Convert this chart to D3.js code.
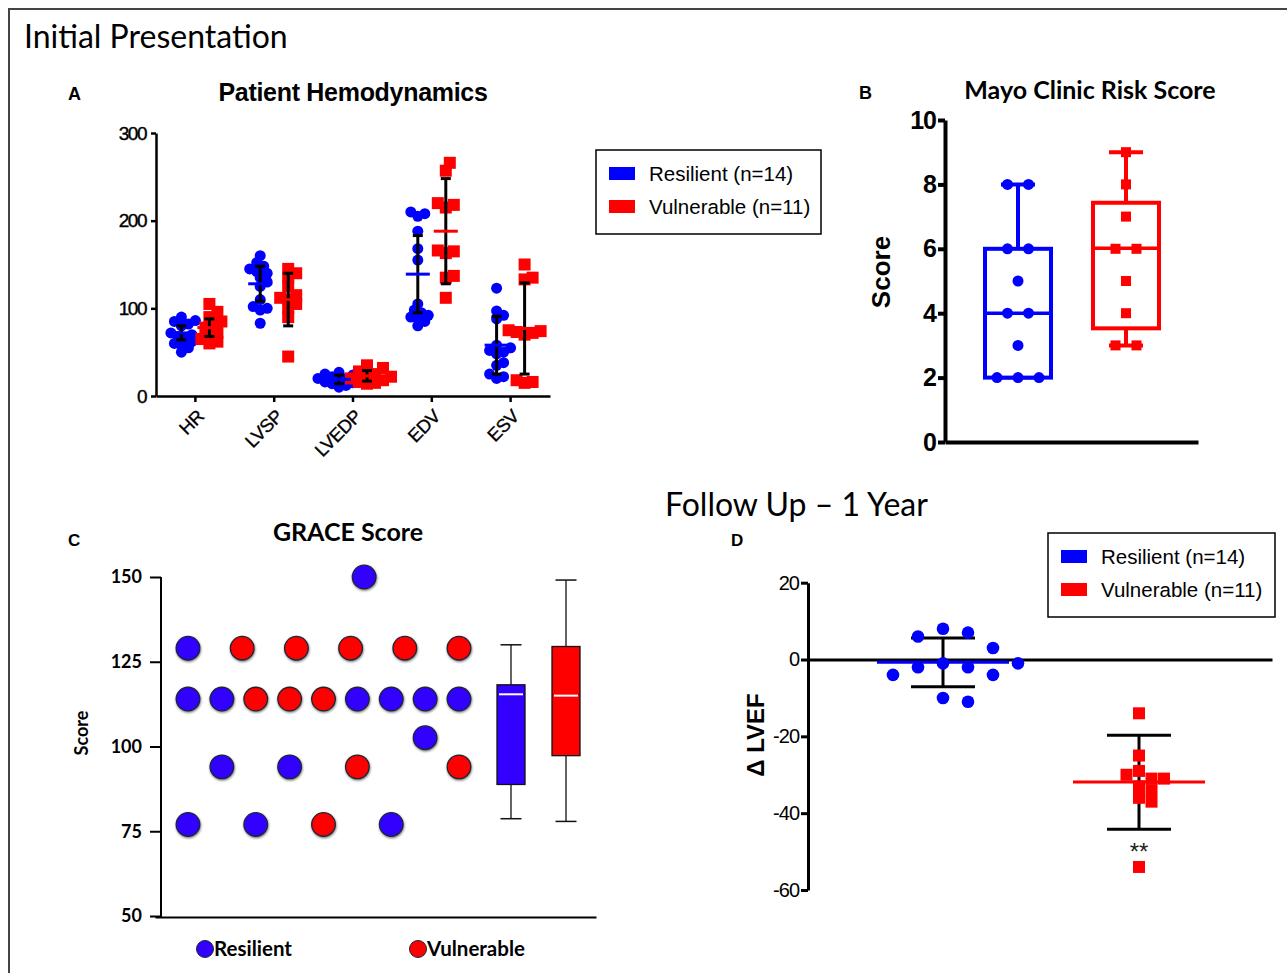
<!DOCTYPE html>
<html>
<head>
<meta charset="utf-8">
<script src="https://cdn.jsdelivr.net/npm/d3@7"></script>
<style>
  body { margin: 0; background: #fff; }
  .arial { font-family: "Liberation Sans", Arial, sans-serif; }
  .cal { font-family: Lato, "Open Sans", sans-serif; }
</style>
</head>
<body>
<script>
// ---------- data ----------
const blue = "#0000ff", red = "#ff0000";
const graceBlue = "#3300ff";

// A: patient hemodynamics
const hemoCats = ["HR", "LVSP", "LVEDP", "EDV", "ESV"];
const hrRes = [50, 55, 58, 60, 62, 65, 68, 70, 72, 80, 82, 85, 86, 90];
const hrVul = [60, 62, 65, 70, 72, 78, 82, 85, 90, 96, 105];
const lvspRes = [83, 98, 100, 102, 110, 125, 130, 135, 140, 142, 145, 148, 152, 160];
const lvspVul = [45, 90, 100, 105, 110, 112, 115, 125, 135, 140, 145];
const lvedpRes = [10, 12, 14, 15, 16, 18, 18, 20, 20, 22, 22, 24, 25, 27];
const lvedpVul = [14, 15, 16, 18, 20, 22, 24, 25, 28, 32, 35];
const edvRes = [80, 85, 88, 90, 92, 95, 98, 105, 155, 168, 188, 205, 208, 210];
const edvVul = [112, 135, 137, 163, 165, 166, 215, 218, 220, 257, 266];
const esvRes = [20, 22, 25, 35, 38, 48, 50, 52, 55, 58, 88, 92, 97, 123];
const esvVul = [15, 16, 18, 70, 72, 73, 74, 75, 133, 135, 150];
const hemoMeanRes = [72, 128, 19, 139, 58];
const hemoSdRes = [8, 20, 5, 44, 33];
const hemoMeanVul = [78, 110, 23, 188, 77];
const hemoSdVul = [10, 30, 6, 60, 52];
const hemoTicks = [0, 100, 200, 300];

// B: Mayo clinic risk score
const mayoRes = [2, 2, 2, 3, 4, 4, 5, 6, 6, 8, 8];
const mayoVul = [3, 3, 4, 5, 6, 6, 7, 8, 9];
const mayoBoxRes = [2, 2, 4, 6, 8];          // min, q1, median, q3, max
const mayoBoxVul = [3, 3.53, 6.02, 7.43, 9];
const mayoTicks = [0, 2, 4, 6, 8, 10];

// C: GRACE score (value, column slot)
const graceResScore = [129, 114, 114, 114, 114, 114, 114, 94, 94, 102.6, 150, 77, 77, 77];
const graceResSlot  = [0, 0, 1, 5, 6, 7, 8, 1, 3, 7, 5.2, 0, 2, 6];
const graceVulScore = [129, 129, 129, 129, 129, 114, 114, 114, 94, 94, 77];
const graceVulSlot  = [1.6, 3.2, 4.8, 6.4, 8, 2, 3, 4, 5, 8, 4];
const graceBoxRes = [78.7, 88.8, 115.4, 118.2, 130];
const graceBoxVul = [77.9, 97.3, 115, 129.5, 149.1];
const graceTicks = [50, 75, 100, 125, 150];

// D: change in LVEF at 1 year
const lvefRes = [8, 7, 6, 3, -1, -2, -2, -4, -4, -10, -11, -1];
const lvefVul = [-14, -25, -29, -31, -30, -33, -34, -36, -37, -54, -31];
const lvefMean = [-0.7, -31.9];
const lvefLo = [-7.1, -44.2];
const lvefHi = [5.6, -19.7];
const lvefTicks = [-60, -40, -20, 0, 20];
const groups = ["Resilient", "Vulnerable"];

// ---------- helpers ----------
function swarm(values, y, minDist, step) {
  const placed = [];
  return values.map(v => {
    const py = y(v);
    for (let k = 0; k < 60; k++) {
      const off = k === 0 ? 0 : (k % 2 ? 1 : -1) * Math.ceil(k / 2) * step;
      if (placed.every(p => (p.x - off) ** 2 + (p.y - py) ** 2 >= minDist * minDist)) {
        placed.push({ x: off, y: py });
        return { v, off };
      }
    }
    return { v, off: 0 };
  });
}
function sameValueSpread(values, spacing) {
  const counts = d3.rollup(values, g => g.length, d => d);
  const seen = new Map();
  return values.map(v => {
    const i = seen.get(v) || 0; seen.set(v, i + 1);
    return { v, off: (i - (counts.get(v) - 1) / 2) * spacing };
  });
}
function styleAxis(g, width, size, family, weight, spacing) {
  g.attr("font-size", size).attr("font-family", family).attr("font-weight", weight);
  g.selectAll("path, line").attr("stroke", "#000").attr("stroke-width", width);
  g.selectAll("text").attr("fill", "#000").style("letter-spacing", spacing || "0px");
}
const plain = d => String(d); // keep hyphen-minus like the original

const svg = d3.select("body").append("svg").attr("width", 1287).attr("height", 973);

// outer frame
svg.append("rect").attr("x", 9).attr("y", 9).attr("width", 1320).attr("height", 1000)
  .attr("fill", "none").attr("stroke", "#444").attr("stroke-width", 2);
svg.append("text").attr("class", "cal").attr("x", 24).attr("y", 48)
  .attr("font-size", 32).text("Initial Presentation");
svg.append("text").attr("class", "cal").attr("x", 665).attr("y", 516)
  .attr("font-size", 32).text("Follow Up \u2013 1 Year");

// ================= A =================
const xA = d3.scaleBand().domain(hemoCats).range([156, 550]);
const yA = d3.scaleLinear().domain([0, 300]).range([396, 133]);
const cx = c => xA(c) + xA.bandwidth() / 2;

svg.append("text").attr("class", "arial").attr("x", 68).attr("y", 100)
  .attr("font-size", 18).attr("font-weight", "bold").text("A");
svg.append("text").attr("class", "arial").attr("x", 353).attr("y", 101)
  .attr("text-anchor", "middle").attr("font-size", 25).attr("font-weight", "bold")
  .style("letter-spacing", "-0.3px").text("Patient Hemodynamics");

const gyA = svg.append("g").attr("transform", "translate(156,0)")
  .call(d3.axisLeft(yA).tickValues(hemoTicks).tickFormat(plain).tickSize(5).tickSizeOuter(0).tickPadding(5));
styleAxis(gyA, 2.5, 19, "Liberation Sans, Arial", "normal", "-1.5px");
gyA.selectAll("text").attr("stroke", "#000").attr("stroke-width", 0.4);

const gxA = svg.append("g").attr("transform", "translate(0,396)")
  .call(d3.axisBottom(xA).tickSize(6).tickSizeOuter(0));
styleAxis(gxA, 2.5, 18.5, "Liberation Sans, Arial", "normal", "-0.5px");
gxA.selectAll("text").attr("x", 0).attr("y", 0).attr("dy", "0.35em")
  .attr("text-anchor", "end").attr("transform", "translate(5,17) rotate(-45)")
  .attr("stroke", "#000").attr("stroke-width", 0.3);

const resSets = [hrRes, lvspRes, lvedpRes, edvRes, esvRes];
const vulSets = [hrVul, lvspVul, lvedpVul, edvVul, esvVul];
const gA = svg.append("g");
hemoCats.forEach((c, i) => {
  const xr = cx(c) - 14, xv = cx(c) + 14;
  swarm(resSets[i], yA, 7, 3.5).forEach(p => {
    gA.append("circle").attr("cx", xr + p.off).attr("cy", yA(p.v)).attr("r", 5.5).attr("fill", blue);
  });
  swarm(vulSets[i], yA, 8, 4).forEach(p => {
    gA.append("rect").attr("x", xv + p.off - 6).attr("y", yA(p.v) - 6)
      .attr("width", 12).attr("height", 12).attr("fill", red);
  });
  [[xr, hemoMeanRes[i], hemoSdRes[i], blue], [xv, hemoMeanVul[i], hemoSdVul[i], red]].forEach(([x, m, s, col]) => {
    gA.append("line").attr("x1", x).attr("x2", x).attr("y1", yA(m - s)).attr("y2", yA(m + s))
      .attr("stroke", "#000").attr("stroke-width", 3);
    [m - s, m + s].forEach(v => gA.append("line").attr("x1", x - 5).attr("x2", x + 5)
      .attr("y1", yA(v)).attr("y2", yA(v)).attr("stroke", "#000").attr("stroke-width", 3));
    gA.append("line").attr("x1", x - 12).attr("x2", x + 12).attr("y1", yA(m)).attr("y2", yA(m))
      .attr("stroke", col).attr("stroke-width", 3);
  });
});

// legend A
function legendBox(x, y, w, h, fs) {
  const g = svg.append("g").attr("transform", `translate(${x},${y})`);
  g.append("rect").attr("width", w).attr("height", h).attr("fill", "#fff")
    .attr("stroke", "#000").attr("stroke-width", 1.5);
  [["Resilient (n=14)", blue], ["Vulnerable (n=11)", red]].forEach(([t, col], i) => {
    g.append("rect").attr("x", 13).attr("y", 17 + i * 33).attr("width", 26).attr("height", 13).attr("fill", col);
    g.append("text").attr("class", "arial").attr("x", 53).attr("y", 31 + i * 33)
      .attr("font-size", fs).text(t);
  });
}
legendBox(596, 150, 225, 84, 20.5);

// ================= B =================
const yB = d3.scaleLinear().domain([0, 10]).range([442, 120]);
const xB = d3.scalePoint().domain(groups).range([1018, 1126]);
svg.append("text").attr("class", "arial").attr("x", 859).attr("y", 99)
  .attr("font-size", 18).attr("font-weight", "bold").text("B");
svg.append("text").attr("class", "cal").attr("x", 1090).attr("y", 99)
  .attr("text-anchor", "middle").attr("font-size", 25).attr("font-weight", "bold")
  .text("Mayo Clinic Risk Score");
svg.append("text").attr("class", "arial").attr("transform", "translate(890,272) rotate(-90)")
  .attr("text-anchor", "middle").attr("font-size", 26).attr("font-weight", "bold").text("Score");

const gyB = svg.append("g").attr("transform", "translate(945,0)")
  .call(d3.axisLeft(yB).tickValues(mayoTicks).tickSize(7).tickSizeOuter(0).tickPadding(2));
styleAxis(gyB, 4, 25, "Liberation Sans, Arial", "bold", "-1px");
const gxB = svg.append("g").attr("transform", "translate(0,442)")
  .call(d3.axisBottom(d3.scaleLinear().range([945, 1198])).tickValues([]).tickSizeOuter(0));
styleAxis(gxB, 4, 10, "Liberation Sans", "normal");

[[groups[0], mayoBoxRes, blue, mayoRes, "c"], [groups[1], mayoBoxVul, red, mayoVul, "s"]].forEach(([gname, b, col, pts, shape]) => {
  const x = xB(gname), g = svg.append("g");
  g.append("line").attr("x1", x).attr("x2", x).attr("y1", yB(b[0])).attr("y2", yB(b[4]))
    .attr("stroke", col).attr("stroke-width", 4);
  [b[0], b[4]].forEach(v => g.append("line").attr("x1", x - 17).attr("x2", x + 17)
    .attr("y1", yB(v)).attr("y2", yB(v)).attr("stroke", col).attr("stroke-width", 4));
  g.append("rect").attr("x", x - 33).attr("y", yB(b[3])).attr("width", 66)
    .attr("height", yB(b[1]) - yB(b[3])).attr("fill", "#fff").attr("stroke", col).attr("stroke-width", 4);
  g.append("line").attr("x1", x - 33).attr("x2", x + 33).attr("y1", yB(b[2])).attr("y2", yB(b[2]))
    .attr("stroke", col).attr("stroke-width", 3.5);
  sameValueSpread(pts, 21).forEach(p => {
    if (shape === "c") g.append("circle").attr("cx", x + p.off).attr("cy", yB(p.v)).attr("r", 5.5).attr("fill", col);
    else g.append("rect").attr("x", x + p.off - 5).attr("y", yB(p.v) - 5).attr("width", 10).attr("height", 10).attr("fill", col);
  });
});

// ================= C =================
const yC = d3.scaleLinear().domain([50, 150]).range([916, 577]);
const slotC = d3.scaleLinear().domain([0, 8]).range([188, 459]);
const xC = d3.scalePoint().domain(groups).range([511, 566]);
svg.append("text").attr("class", "arial").attr("x", 68).attr("y", 546)
  .attr("font-size", 17).attr("font-weight", "bold").text("C");
svg.append("text").attr("class", "cal").attr("x", 348).attr("y", 541)
  .attr("text-anchor", "middle").attr("font-size", 25).attr("font-weight", "bold").text("GRACE Score");
svg.append("text").attr("class", "cal").attr("transform", "translate(88,733) rotate(-90)")
  .attr("text-anchor", "middle").attr("font-size", 18).attr("font-weight", "bold").text("Score");

const gyC = svg.append("g").attr("transform", "translate(161,0)")
  .call(d3.axisLeft(yC).tickValues(graceTicks).tickSize(11).tickSizeOuter(0).tickPadding(8));
styleAxis(gyC, 2, 18, "Lato, sans-serif", "bold");
gyC.select(".domain").attr("d", `M0,${yC(150)}V${yC(50) + 1}`);
const gxC = svg.append("g").attr("transform", `translate(0,${yC(50) + 1})`)
  .call(d3.axisBottom(d3.scaleLinear().range([155, 596])).tickValues([]).tickSizeOuter(0));
styleAxis(gxC, 2, 10, "Lato", "normal");

const defs = svg.append("defs");
const f = defs.append("filter").attr("id", "sh").attr("x", "-30%").attr("y", "-30%").attr("width", "160%").attr("height", "160%");
f.append("feDropShadow").attr("dx", 0.5).attr("dy", 1.2).attr("stdDeviation", 0.8).attr("flood-color", "#000").attr("flood-opacity", 0.55);

const gC = svg.append("g");
graceResScore.forEach((v, i) => gC.append("circle").attr("cx", slotC(graceResSlot[i])).attr("cy", yC(v))
  .attr("r", 11.8).attr("fill", graceBlue).attr("stroke", "#1a2535").attr("stroke-width", 1.3).attr("filter", "url(#sh)"));
graceVulScore.forEach((v, i) => gC.append("circle").attr("cx", slotC(graceVulSlot[i])).attr("cy", yC(v))
  .attr("r", 11.8).attr("fill", red).attr("stroke", "#1a2535").attr("stroke-width", 1.3).attr("filter", "url(#sh)"));

[[groups[0], graceBoxRes, graceBlue], [groups[1], graceBoxVul, red]].forEach(([gname, b, col]) => {
  const x = xC(gname);
  gC.append("line").attr("x1", x).attr("x2", x).attr("y1", yC(b[0])).attr("y2", yC(b[4]))
    .attr("stroke", "#111").attr("stroke-width", 1.3);
  [b[0], b[4]].forEach(v => gC.append("line").attr("x1", x - 10.5).attr("x2", x + 10.5)
    .attr("y1", yC(v)).attr("y2", yC(v)).attr("stroke", "#111").attr("stroke-width", 1.5));
  gC.append("rect").attr("x", x - 14).attr("y", yC(b[3])).attr("width", 28)
    .attr("height", yC(b[1]) - yC(b[3])).attr("fill", col).attr("stroke", "#111").attr("stroke-width", 1.3);
  gC.append("line").attr("x1", x - 12).attr("x2", x + 12).attr("y1", yC(b[2])).attr("y2", yC(b[2]))
    .attr("stroke", "#fff").attr("stroke-width", 2);
});

[[groups[0], graceBlue, 205], [groups[1], red, 418]].forEach(([t, col, x]) => {
  svg.append("circle").attr("cx", x).attr("cy", 949).attr("r", 8.5).attr("fill", col)
    .attr("stroke", "#1a2535").attr("stroke-width", 1);
  svg.append("text").attr("class", "cal").attr("x", x + 9).attr("y", 956)
    .attr("font-size", 20.5).attr("font-weight", "bold").text(t);
});

// ================= D =================
const yD = d3.scaleLinear().domain([-60, 20]).range([890, 582.7]);
const xD = d3.scalePoint().domain(groups).range([943, 1139]);
svg.append("text").attr("class", "arial").attr("x", 731).attr("y", 546)
  .attr("font-size", 17).attr("font-weight", "bold").text("D");
svg.append("text").attr("class", "arial").attr("transform", "translate(764,735) rotate(-90)")
  .attr("text-anchor", "middle").attr("font-size", 24).attr("font-weight", "bold").text("\u0394 LVEF");

const gyD = svg.append("g").attr("transform", "translate(808,0)")
  .call(d3.axisLeft(yD).tickValues(lvefTicks).tickFormat(plain).tickSize(7).tickSizeOuter(0).tickPadding(2));
styleAxis(gyD, 3, 20, "Liberation Sans, Arial", "normal", "-1px");
const gxD = svg.append("g").attr("transform", `translate(0,${yD(0)})`)
  .call(d3.axisBottom(d3.scaleLinear().range([808, 1272])).tickValues([]).tickSizeOuter(0));
styleAxis(gxD, 3, 10, "Liberation Sans", "normal");

const gD = svg.append("g");
groups.forEach((gname, i) => {
  const x = xD(gname), col = i === 0 ? blue : red;
  gD.append("line").attr("x1", x - 66).attr("x2", x + 66).attr("y1", yD(lvefMean[i])).attr("y2", yD(lvefMean[i]))
    .attr("stroke", col).attr("stroke-width", 3);
  gD.append("line").attr("x1", x).attr("x2", x).attr("y1", yD(lvefLo[i])).attr("y2", yD(lvefHi[i]))
    .attr("stroke", "#000").attr("stroke-width", 3);
  [lvefLo[i], lvefHi[i]].forEach(v => gD.append("line").attr("x1", x - 32).attr("x2", x + 32)
    .attr("y1", yD(v)).attr("y2", yD(v)).attr("stroke", "#000").attr("stroke-width", 3));
});
swarm(lvefRes, yD, 22, 12.5).forEach(p => gD.append("circle")
  .attr("cx", xD(groups[0]) + p.off).attr("cy", yD(p.v)).attr("r", 6.3).attr("fill", blue));
swarm(lvefVul, yD, 9, 12.5).forEach(p => gD.append("rect")
  .attr("x", xD(groups[1]) + p.off - 6).attr("y", yD(p.v) - 6).attr("width", 12).attr("height", 12).attr("fill", red));
svg.append("text").attr("class", "arial").attr("x", xD(groups[1])).attr("y", 860)
  .attr("text-anchor", "middle").attr("font-size", 24).attr("fill", "#222").text("**");

legendBox(1048, 533, 227, 84, 20.5);
</script>
</body>
</html>
